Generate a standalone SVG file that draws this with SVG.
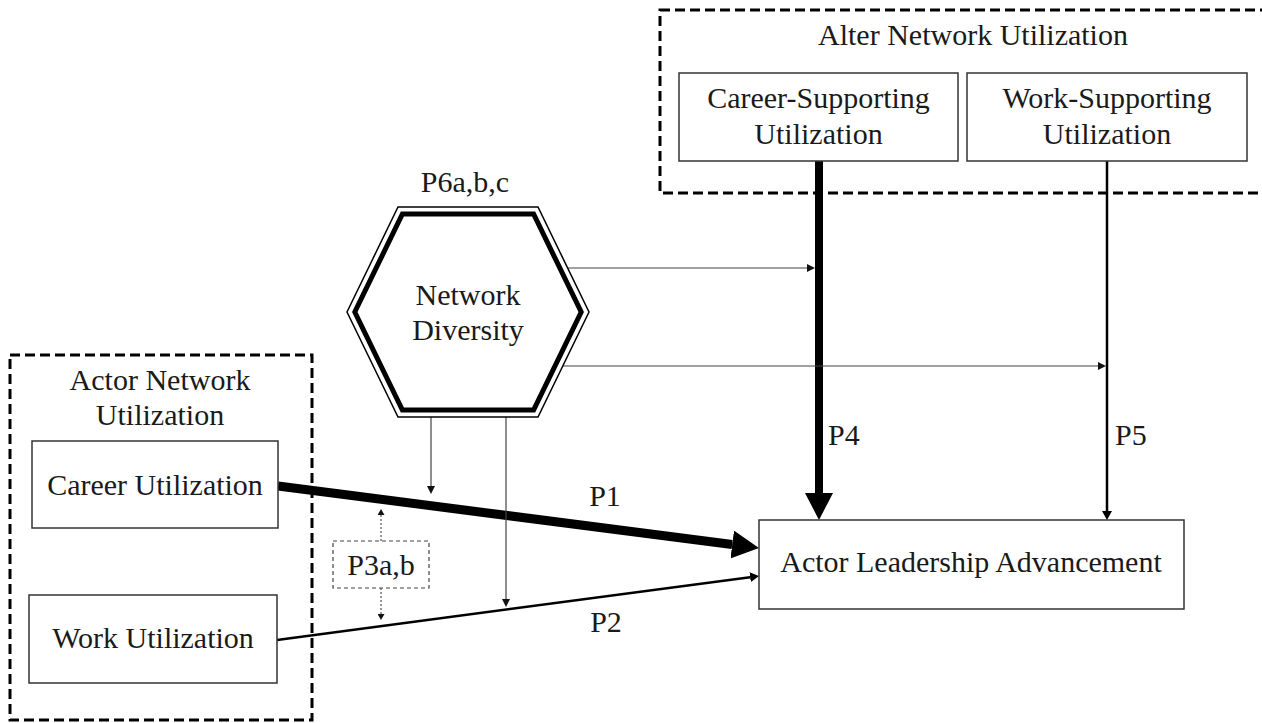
<svg xmlns="http://www.w3.org/2000/svg" width="1262" height="723" viewBox="0 0 1262 723">
  <style>
    text { font-family: "Liberation Serif", "Times New Roman", serif; font-size: 30px; fill: #1a1a1a; text-anchor: middle; }
    .lbl { text-anchor: start; }
    .box { fill: #ffffff; stroke: #333333; stroke-width: 1.5; }
    .group { fill: none; stroke: #000000; stroke-width: 3; stroke-dasharray: 10 5; }
    .thin { fill: none; stroke: #444444; stroke-width: 1.2; }
    .mid { fill: none; stroke: #000000; stroke-width: 2.5; }
    .thick { fill: none; stroke: #000000; stroke-width: 9; }
    .dot { fill: none; stroke: #333333; stroke-width: 1; stroke-dasharray: 2 2; }
    .dashbox { fill: #ffffff; stroke: #444444; stroke-width: 1.2; stroke-dasharray: 4 3; }
  </style>
  <defs>
    <marker id="aBig" markerUnits="userSpaceOnUse" markerWidth="28" markerHeight="28" refX="0" refY="14" orient="auto">
      <path d="M0,0 L27,14 L0,28 Z" fill="#000"/>
    </marker>
    <marker id="aMid" markerUnits="userSpaceOnUse" markerWidth="10" markerHeight="10" refX="0" refY="5" orient="auto">
      <path d="M0,0 L9,5 L0,10 Z" fill="#000"/>
    </marker>
    <marker id="aThin" markerUnits="userSpaceOnUse" markerWidth="9" markerHeight="8" refX="0" refY="4" orient="auto">
      <path d="M0,0 L8,4 L0,8 Z" fill="#111"/>
    </marker>
    <marker id="aDot" markerUnits="userSpaceOnUse" markerWidth="7" markerHeight="7" refX="0" refY="3.5" orient="auto">
      <path d="M0,0 L6,3.5 L0,7 Z" fill="#111"/>
    </marker>
  </defs>

  <!-- group frames -->
  <g id="alter-group">
    <rect class="group" x="660" y="10" width="620" height="183"/>
    <text x="973" y="45">Alter Network Utilization</text>
  </g>
  <g id="actor-group">
    <rect class="group" x="10" y="355" width="302" height="365"/>
    <text x="160" y="390">Actor Network</text>
    <text x="160" y="425">Utilization</text>
  </g>

  <!-- connectors -->
  <g id="connectors">
    <!-- P4 -->
    <line class="thick" x1="819" y1="161" x2="819" y2="493" style="stroke-width:8" marker-end="url(#aBig)"/>
    <!-- P5 -->
    <line class="mid" x1="1107" y1="161" x2="1107" y2="511" marker-end="url(#aMid)"/>
    <!-- P1 -->
    <line class="thick" x1="278" y1="486" x2="732.2" y2="544.5" marker-end="url(#aBig)"/>
    <!-- P2 -->
    <line class="mid" x1="277" y1="640" x2="750.1" y2="577.2" marker-end="url(#aMid)"/>
    <!-- moderation from Network Diversity -->
    <line class="thin" x1="566" y1="268" x2="807" y2="268" marker-end="url(#aThin)"/>
    <line class="thin" x1="563" y1="366" x2="1098" y2="366" marker-end="url(#aThin)"/>
    <line class="thin" x1="431" y1="417" x2="431" y2="486" marker-end="url(#aThin)"/>
    <line class="thin" x1="506" y1="417" x2="506" y2="599" marker-end="url(#aThin)"/>
    <!-- P3a,b dotted arrows -->
    <line class="dot" x1="381" y1="541" x2="381" y2="515" marker-end="url(#aDot)"/>
    <line class="dot" x1="381" y1="588" x2="381" y2="614" marker-end="url(#aDot)"/>
    <!-- labels -->
    <text class="lbl" x="828" y="445">P4</text>
    <text class="lbl" x="1115" y="445">P5</text>
    <text x="605" y="506">P1</text>
    <text x="606" y="632">P2</text>
  </g>

  <!-- nodes -->
  <g id="career-supporting">
    <rect class="box" x="679" y="73" width="279" height="88"/>
    <text x="818.5" y="108">Career-Supporting</text>
    <text x="818.5" y="144">Utilization</text>
  </g>
  <g id="work-supporting">
    <rect class="box" x="967" y="73" width="280" height="88"/>
    <text x="1107" y="108">Work-Supporting</text>
    <text x="1107" y="144">Utilization</text>
  </g>
  <g id="network-diversity">
    <text x="465" y="192">P6a,b,c</text>
    <polygon points="398,207 538,207 589,312 538,417 398,417 347,312" fill="#fff" stroke="#000" stroke-width="1.5"/>
    <polygon points="402.4,214 533.6,214 581.2,312 533.6,410 402.4,410 354.8,312" fill="none" stroke="#000" stroke-width="5"/>
    <text x="468" y="305">Network</text>
    <text x="468" y="340">Diversity</text>
  </g>
  <g id="career-utilization">
    <rect class="box" x="32" y="441" width="246" height="87"/>
    <text x="155" y="495">Career Utilization</text>
  </g>
  <g id="work-utilization">
    <rect class="box" x="29" y="595" width="248" height="88"/>
    <text x="153" y="648">Work Utilization</text>
  </g>
  <g id="p3ab">
    <rect class="dashbox" x="333" y="541" width="96" height="47"/>
    <text x="381" y="575">P3a,b</text>
  </g>
  <g id="leadership-advancement">
    <rect class="box" x="759" y="520" width="425" height="89"/>
    <text x="971" y="572">Actor Leadership Advancement</text>
  </g>
</svg>
